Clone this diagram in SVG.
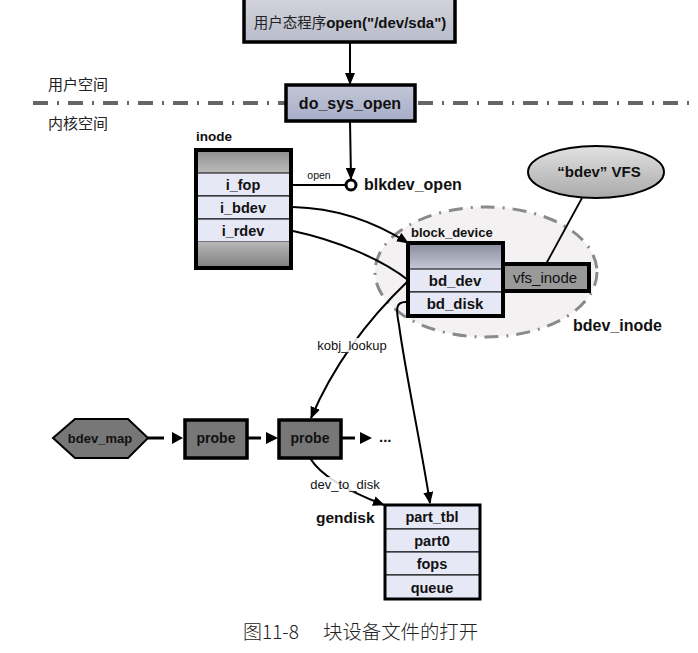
<svg xmlns="http://www.w3.org/2000/svg" width="698" height="653" viewBox="0 0 698 653">
<defs>
<linearGradient id="gTop" x1="0" y1="0" x2="0" y2="1"><stop offset="0" stop-color="#d2d3da"/><stop offset="1" stop-color="#b9bccb"/></linearGradient>
<linearGradient id="gSys" x1="0" y1="0" x2="0" y2="1"><stop offset="0" stop-color="#c3c7d6"/><stop offset="1" stop-color="#a6adc8"/></linearGradient>
<linearGradient id="gHead" x1="0" y1="0" x2="0" y2="1"><stop offset="0" stop-color="#8e8e8e"/><stop offset="1" stop-color="#bdbdbd"/></linearGradient>
<linearGradient id="gFoot" x1="0" y1="0" x2="0" y2="1"><stop offset="0" stop-color="#b8b8b8"/><stop offset="1" stop-color="#7e7e7e"/></linearGradient>
<linearGradient id="gBd" x1="0" y1="0" x2="0" y2="1"><stop offset="0" stop-color="#868a99"/><stop offset="1" stop-color="#c4c8d8"/></linearGradient>
<linearGradient id="gVfs" x1="0" y1="0" x2="0" y2="1"><stop offset="0" stop-color="#e2e2e2"/><stop offset="1" stop-color="#a9a9a9"/></linearGradient>
<marker id="arr" viewBox="0 0 12 10" refX="11" refY="5" markerWidth="12" markerHeight="10" markerUnits="userSpaceOnUse" orient="auto"><path d="M0,0 L12,5 L0,10 Z" fill="#000"/></marker>
</defs>
<style>
.bx{stroke:#000;stroke-width:3.5}
.row{fill:#e6e8f6;stroke:#000;stroke-width:1}
.t{font-family:"Liberation Sans",Arial,sans-serif;fill:#111;text-anchor:middle}
.b{font-weight:bold}
.cjk{font-family:"Noto Sans CJK SC","Liberation Sans",sans-serif;fill:#222}
.ln{fill:none;stroke:#000;stroke-width:2}
</style>
<rect width="698" height="653" fill="#fff"/>

<!-- user/kernel boundary -->
<g id="boundary">
<line x1="33" y1="103" x2="692" y2="103" stroke="#666" stroke-width="4" stroke-dasharray="15 9 2 9"/>
<text x="48" y="90" class="cjk" font-size="15">用户空间</text>
<text x="48" y="129" class="cjk" font-size="15">内核空间</text>
</g>

<!-- bdev_inode dashed ellipse -->
<g id="bdev_inode">
<ellipse cx="486" cy="272" rx="111" ry="65" fill="#f4f1f2" stroke="#8a8a8a" stroke-width="3" stroke-dasharray="14 8 2 8"/>
<text x="573" y="331" class="t b" font-size="16" text-anchor="start" style="text-anchor:start">bdev_inode</text>
</g>

<g id="connectors">
<line x1="350" y1="42" x2="350" y2="84" class="ln" marker-end="url(#arr)"/>
<line x1="350" y1="121" x2="351" y2="179" class="ln" marker-end="url(#arr)"/>
<line x1="292" y1="185" x2="346" y2="185" class="ln"/>
<text x="319" y="179" class="t" font-size="10.5">open</text>
<path d="M293,207 C335,208 375,222 408,243" class="ln" marker-end="url(#arr)"/>
<path d="M293,231 C335,240 380,258 408,280" class="ln"/>
<path d="M408,281 C385,303 340,350 311,418" class="ln" marker-end="url(#arr)"/>
<path d="M407,302 C395,301 396,310 399,325 C405,370 420,440 430,503" class="ln" marker-end="url(#arr)"/>
<path d="M310,458 C320,475 345,490 384,505" class="ln" marker-end="url(#arr)"/>
<line x1="582" y1="198" x2="546" y2="264" stroke="#000" stroke-width="1.8"/>
<line x1="148" y1="438" x2="164" y2="438" stroke="#000" stroke-width="3"/>
<path d="M172,432 L183,438 L172,444 Z" fill="#000"/>
<line x1="247" y1="438" x2="261" y2="438" stroke="#000" stroke-width="3"/>
<path d="M266,432 L278,438 L266,444 Z" fill="#000"/>
<line x1="341" y1="438" x2="355" y2="438" stroke="#000" stroke-width="3"/>
<path d="M360,432 L372,438 L360,444 Z" fill="#000"/>
<rect x="318" y="338" width="69" height="15" fill="#fff" opacity="0.85"/>
<text x="352" y="350" class="t" font-size="13">kobj_lookup</text>
<rect x="310" y="477" width="70" height="15" fill="#fff" opacity="0.85"/>
<text x="345" y="489" class="t" font-size="13">dev_to_disk</text>
</g>

<g id="user_open">
<rect x="244" y="-2" width="211" height="44" fill="url(#gTop)" class="bx"/>
<text x="350" y="28" class="t" font-size="15"><tspan class="cjk" style="font-family:'Noto Sans CJK SC',sans-serif" font-size="14.5" fill="#333">用户态程序</tspan><tspan font-weight="bold">open("/dev/sda")</tspan></text>
</g>

<g id="do_sys_open">
<rect x="286" y="85" width="129" height="36" fill="url(#gSys)" class="bx"/>
<text x="350" y="109" class="t b" font-size="16">do_sys_open</text>
</g>

<g id="blkdev_open">
<circle cx="351" cy="185" r="5" fill="#fff" stroke="#000" stroke-width="3"/>
<text x="364" y="190" class="t b" font-size="16" style="text-anchor:start">blkdev_open</text>
</g>

<g id="inode">
<text x="196" y="141" class="t b" font-size="13.5" style="text-anchor:start">inode</text>
<rect x="196" y="150" width="95" height="24" fill="url(#gHead)"/>
<rect x="196" y="173" width="95" height="23" class="row"/>
<rect x="196" y="196" width="95" height="23" class="row"/>
<rect x="196" y="219" width="95" height="23" class="row"/>
<rect x="196" y="242" width="95" height="26" fill="url(#gFoot)"/>
<rect x="196" y="150" width="95" height="118" fill="none" stroke="#000" stroke-width="4"/>
<text x="243" y="190" class="t b" font-size="14.5">i_fop</text>
<text x="243" y="213" class="t b" font-size="14.5">i_bdev</text>
<text x="243" y="236" class="t b" font-size="14.5">i_rdev</text>
</g>

<g id="block_device">
<text x="411" y="237" class="t b" font-size="13" style="text-anchor:start">block_device</text>
<rect x="408" y="243" width="95" height="26" fill="url(#gBd)"/>
<rect x="408" y="269" width="95" height="23" class="row"/>
<rect x="408" y="292" width="95" height="24" class="row"/>
<rect x="408" y="243" width="95" height="73" fill="none" stroke="#000" stroke-width="4"/>
<text x="455" y="286" class="t b" font-size="15">bd_dev</text>
<text x="455" y="309" class="t b" font-size="15">bd_disk</text>
</g>

<g id="vfs_inode">
<rect x="503" y="264" width="86" height="27" fill="#999" stroke="#000" stroke-width="4"/>
<text x="545" y="283" class="t" font-size="15">vfs_inode</text>
</g>

<g id="bdev_vfs">
<ellipse cx="596" cy="172" rx="68" ry="26" fill="url(#gVfs)" stroke="#000" stroke-width="2"/>
<text x="599" y="177" class="t b" font-size="15">“bdev” VFS</text>
</g>

<g id="bdev_map">
<polygon points="53,438 75,419 128,419 148,438 128,458 75,458" fill="#777" stroke="#000" stroke-width="2"/>
<text x="100" y="443" class="t b" font-size="13">bdev_map</text>
</g>

<g id="probe1">
<rect x="185" y="420" width="62" height="38" fill="#777" stroke="#000" stroke-width="3.5"/>
<text x="216" y="443" class="t b" font-size="14">probe</text>
</g>

<g id="probe2">
<rect x="279" y="420" width="62" height="38" fill="#777" stroke="#000" stroke-width="3.5"/>
<text x="310" y="443" class="t b" font-size="14">probe</text>
</g>

<g id="more">
<text x="379" y="442" class="t b" font-size="15" style="text-anchor:start">...</text>
</g>

<g id="gendisk">
<text x="316" y="523" class="t b" font-size="15.5" style="text-anchor:start">gendisk</text>
<rect x="385" y="505" width="95" height="24" class="row"/>
<rect x="385" y="529" width="95" height="23" class="row"/>
<rect x="385" y="552" width="95" height="23" class="row"/>
<rect x="385" y="575" width="95" height="24" class="row"/>
<rect x="385" y="505" width="95" height="94" fill="none" stroke="#000" stroke-width="3"/>
<text x="432" y="522" class="t b" font-size="14.5">part_tbl</text>
<text x="432" y="546" class="t b" font-size="14.5">part0</text>
<text x="432" y="569" class="t b" font-size="14.5">fops</text>
<text x="432" y="593" class="t b" font-size="14.5">queue</text>
</g>

<g id="caption">
<text x="243" y="639" class="cjk" font-size="19" fill="#444" style="font-weight:300">图11-8</text>
<text x="323" y="639" class="cjk" font-size="19.4" fill="#444" style="font-weight:300">块设备文件的打开</text>
</g>
</svg>
